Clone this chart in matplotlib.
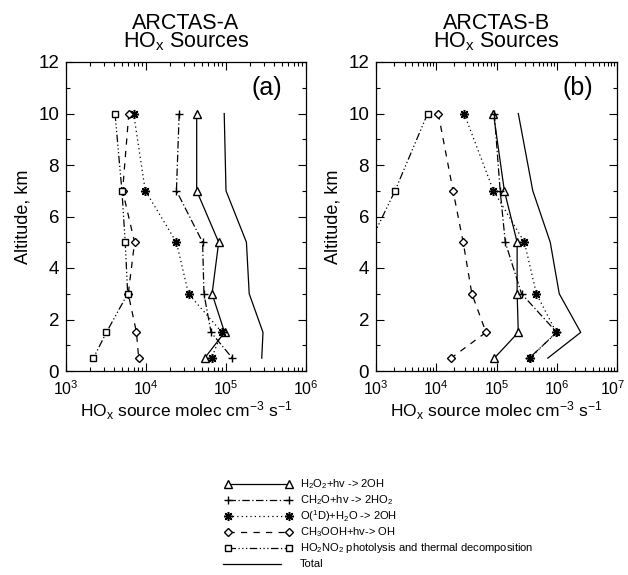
import matplotlib
matplotlib.use("Agg")
import matplotlib.pyplot as plt
from matplotlib.lines import Line2D
from matplotlib.transforms import ScaledTranslation
from matplotlib.ticker import LogLocator, MultipleLocator, NullFormatter

plt.rcParams['font.family'] = ['Liberation Sans', 'DejaVu Sans']
plt.rcParams['mathtext.fontset'] = 'custom'
plt.rcParams['mathtext.rm'] = 'Liberation Sans'
plt.rcParams['mathtext.it'] = 'Liberation Sans'
plt.rcParams['mathtext.bf'] = 'Liberation Sans:bold'
plt.rcParams['mathtext.default'] = 'regular'

altitude = [10, 7, 5, 3, 1.5, 0.5]

# ARCTAS-A
a_h2o2 = [4.3e4, 4.3e4, 8.1e4, 6.7e4, 9.6e4, 5.4e4]
a_ch2o = [2.6e4, 2.4e4, 5.1e4, 5.3e4, 6.5e4, 1.2e5]
a_o1d = [7.0e3, 9.8e3, 2.4e4, 3.4e4, 8.9e4, 6.6e4]
a_ch3ooh = [6.1e3, 5.1e3, 7.2e3, 6.0e3, 7.6e3, 8.1e3]
a_ho2no2 = [4.1e3, 5.0e3, 5.5e3, 5.9e3, 3.2e3, 2.2e3]
a_total = [9.5e4, 1.0e5, 1.8e5, 1.95e5, 2.9e5, 2.8e5]

# ARCTAS-B
b_h2o2 = [8.9e4, 1.35e5, 2.2e5, 2.2e5, 2.3e5, 9.2e4]
b_ch2o = [9.2e4, 1.15e5, 1.4e5, 2.6e5, 1.0e6, 3.5e5]
b_o1d = [2.9e4, 8.9e4, 2.9e5, 4.6e5, 9.8e5, 3.6e5]
b_ch3ooh = [1.08e4, 1.9e4, 2.8e4, 3.9e4, 6.7e4, 1.76e4]
b_ho2no2 = [7.2e3, 2.07e3, 8.0e2, 5.0e2, 3.0e2, 2.0e2]
b_total = [2.3e5, 4.0e5, 7.8e5, 1.1e6, 2.5e6, 7.1e5]

labels = [r'H$_2$O$_2$+hv -> 2OH',
          r'CH$_2$O+hv -> 2HO$_2$',
          r'O($^1$D)+H$_2$O -> 2OH',
          r'CH$_3$OOH+hv-> OH',
          r'HO$_2$NO$_2$ photolysis and thermal decomposition',
          'Total']

styles = [
    dict(ls='-', marker='^', ms=5.5, mfc='white'),
    dict(ls=(0, (6, 2, 1, 2)), marker='+', ms=6),
    dict(ls=(0, (1, 2.5)), marker=(8, 2, 0), ms=6.5, mew=1.1),
    dict(ls=(0, (5, 5)), marker='D', ms=3.8, mfc='white'),
    dict(ls=(0, (6, 2, 1, 2, 1, 2, 1, 2)), marker='s', ms=5, mfc='white'),
    dict(ls='-', marker=None),
]

W, H = 628, 575
fig = plt.figure(figsize=(W / 100, H / 100), dpi=100)
ax_a = fig.add_axes([66 / W, 1 - 371 / H, 240 / W, 309 / H])
ax_b = fig.add_axes([376 / W, 1 - 371 / H, 241 / W, 309 / H])

panels = [
    (ax_a, [a_h2o2, a_ch2o, a_o1d, a_ch3ooh, a_ho2no2, a_total], (1e3, 1e6), 'ARCTAS-A', '(a)'),
    (ax_b, [b_h2o2, b_ch2o, b_o1d, b_ch3ooh, b_ho2no2, b_total], (1e3, 1e7), 'ARCTAS-B', '(b)'),
]

for ax, series, xlim, title, tag in panels:
    for vals, st in zip(series, styles):
        kw = dict(st)
        ax.plot(vals, altitude, color='black', lw=0.9, mec='black', **kw)
    ax.set_xscale('log')
    ax.set_xlim(*xlim)
    ax.set_ylim(0, 12)
    ax.yaxis.set_major_locator(MultipleLocator(2))
    ax.yaxis.set_minor_locator(MultipleLocator(1))
    ax.xaxis.set_major_locator(LogLocator(base=10, numticks=10))
    ax.xaxis.set_minor_locator(LogLocator(base=10, subs=range(2, 10), numticks=50))
    ax.xaxis.set_minor_formatter(NullFormatter())
    ax.tick_params(which='both', direction='in', top=True, right=True)
    ax.tick_params(axis='x', labelsize=11.5, pad=6)
    ax.tick_params(axis='y', labelsize=13.5, pad=5)
    ax.tick_params(which='major', length=6, width=0.8)
    ax.tick_params(which='minor', length=3, width=0.8)
    for sp in ax.spines.values():
        sp.set_linewidth(0.9)
    ax.set_ylabel('Altitude, km', fontsize=13, labelpad=5)
    ax.set_xlabel(r'HO$_x$ source molec cm$^{-3}$ s$^{-1}$', fontsize=12.5, labelpad=1)
    ax.text(0.9, 0.955, tag, transform=ax.transAxes, ha='right', va='top', fontsize=18)
    bb = ax.get_position()
    cx = (bb.x0 + bb.x1) / 2
    fig.text(cx, 1 - 47 / H, title + '\n' + r'HO$_x$ Sources', ha='center', va='baseline',
             multialignment='center', fontsize=15.5, linespacing=0.78)

# keep the last tick label of panel (b) inside the figure
fig.canvas.draw()
for lab in ax_b.get_xticklabels():
    if '7' in lab.get_text():
        lab.set_transform(lab.get_transform() + ScaledTranslation(-4 / 100, 0, fig.dpi_scale_trans))

# manual legend at the bottom
row_y = [484, 500, 516, 532, 548, 564]
x0, x1, xt = 228, 289, 300
for st, lab, y in zip(styles, labels, row_y):
    kw = dict(st)
    ln = Line2D([x0 / W, x1 / W], [1 - y / H, 1 - y / H], transform=fig.transFigure,
                color='black', lw=0.9, mec='black', **kw)
    if kw.get('marker') is None:
        ln.set_xdata([(x0 - 5) / W, (x1 - 8) / W])
    fig.add_artist(ln)
    fig.text(xt / W, 1 - y / H, lab, ha='left', va='center', fontsize=8)

fig.savefig('out.png', dpi=100)
